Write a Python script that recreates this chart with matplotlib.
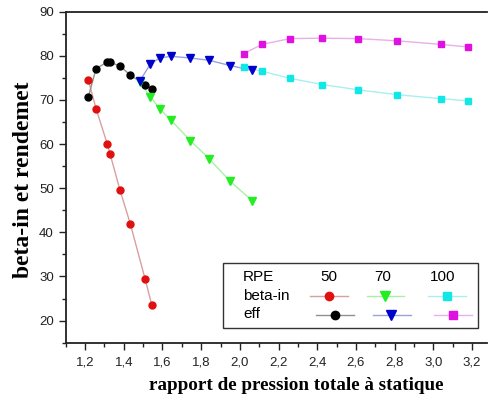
import matplotlib
matplotlib.use("Agg")
import matplotlib.pyplot as plt
from matplotlib.lines import Line2D
from matplotlib.patches import Rectangle
from matplotlib.ticker import MultipleLocator, FuncFormatter

# data
x50 = [1.217, 1.257, 1.315, 1.329, 1.381, 1.434, 1.510, 1.545]
beta50 = [74.5, 68.0, 60.0, 57.8, 49.5, 41.9, 29.5, 23.5]
eff50 = [70.7, 77.1, 78.6, 78.5, 77.7, 75.6, 73.5, 72.5]

x70 = [1.482, 1.538, 1.586, 1.644, 1.744, 1.841, 1.949, 2.065]
beta70 = [74.0, 70.7, 68.0, 65.4, 60.8, 56.7, 51.6, 47.1]
eff70 = [74.2, 78.2, 79.5, 79.9, 79.5, 79.0, 77.8, 76.7]

x100 = [2.020, 2.115, 2.259, 2.425, 2.611, 2.812, 3.038, 3.180]
beta100 = [77.4, 76.5, 74.9, 73.5, 72.3, 71.2, 70.3, 69.8]
eff100 = [80.5, 82.6, 83.9, 84.0, 83.9, 83.4, 82.6, 82.0]

rpe_labels = ["50", "70", "100"]
row_labels = ["beta-in", "eff"]

W, H = 488, 400
fig = plt.figure(figsize=(W / 100, H / 100), dpi=100)
ax = fig.add_axes([65.7 / W, 1 - 342.7 / H, (487 - 65.7) / W, (342.7 - 11.7) / H])

series = [
    (x50, beta50, "o", "#e01010", "#d8a0a0", 5.0),
    (x50, eff50, "o", "#000000", "#909090", 5.0),
    (x70, beta70, "v", "#22ee22", "#a8f0a8", 6.0),
    (x70, eff70, "v", "#0000cc", "#9aa0e0", 6.0),
    (x100, beta100, "s", "#10e8e8", "#a8f0f0", 4.6),
    (x100, eff100, "s", "#e010e0", "#e8b0e8", 4.6),
]
for xs, ys, m, mc, lc, ms in series:
    ax.plot(xs, ys, color=lc, lw=1.0, zorder=2)
    ax.plot(xs, ys, ls="none", marker=m, color=mc, ms=ms, mec=mc, zorder=3)

ax.set_xlim(1.1, 3.277)
ax.set_ylim(15, 90)
ax.xaxis.set_major_locator(MultipleLocator(0.2))
ax.xaxis.set_minor_locator(MultipleLocator(0.1))
ax.yaxis.set_major_locator(MultipleLocator(10))
ax.yaxis.set_minor_locator(MultipleLocator(5))
ax.set_xticks([t / 10 for t in range(12, 33, 2)])
ax.xaxis.set_major_formatter(FuncFormatter(lambda v, p: f"{v:.1f}".replace(".", ",")))
ax.yaxis.set_major_formatter(FuncFormatter(lambda v, p: f"{v:.0f}"))
ax.tick_params(which="both", direction="out", width=1.0, labelsize=9.5, colors="#222222")
ax.tick_params(which="major", length=5)
ax.tick_params(which="minor", length=3)
ax.tick_params(axis="x", pad=5)
for t in ax.get_xticklabels() + ax.get_yticklabels():
    t.set_fontfamily("Liberation Sans")
ax.spines["right"].set_visible(False)
for s in ["left", "bottom", "top"]:
    ax.spines[s].set_linewidth(1.3)
    ax.spines[s].set_color("#222222")

ax.set_xlabel("rapport de pression totale à statique", fontfamily="Liberation Serif",
              fontweight="bold", fontsize=13.8)
ax.set_ylabel("beta-in et rendemet", fontfamily="Liberation Serif",
              fontweight="bold", fontsize=17)

def fx(px):
    return px / W
def fy(py):
    return 1 - py / H

ax.xaxis.set_label_coords((296 - 65.7) / (487 - 65.7), (342.7 - 386) / (342.7 - 11.7))
ax.xaxis.label.set_va("center")
ax.yaxis.set_label_coords((24 - 65.7) / (487 - 65.7), (342.7 - 180) / (342.7 - 11.7))
ax.yaxis.label.set_va("center")

# legend table (figure pixel coordinates)
fig.patches.append(Rectangle((fx(223), fy(328)), fx(478) - fx(223), fy(262.7) - fy(328),
                             transform=fig.transFigure, fill=False, ec="#333333", lw=1.0))
ffam = "Liberation Sans"
fs = 11
fig.text(fx(243), fy(277), "RPE", fontsize=fs, family=ffam, va="center")
fig.text(fx(243), fy(296), row_labels[0], fontsize=fs, family=ffam, va="center")
fig.text(fx(243), fy(314.5), row_labels[1], fontsize=fs, family=ffam, va="center")
for cx, lab in zip([328.5, 383, 443], rpe_labels):
    fig.text(fx(cx), fy(277), lab, fontsize=fs, family=ffam, va="center", ha="center")

leg_rows = [
    (296, [(329, 310, 348), (385, 367, 404), (447, 428, 466)], [0, 2, 4]),
    (314.5, [(335, 316, 354), (391, 373, 411), (453, 434, 472)], [1, 3, 5]),
]
for ry, cols, idxs in leg_rows:
    for (cx, x0, x1), i in zip(cols, idxs):
        _, _, m, mc, lc, ms = series[i]
        fig.add_artist(Line2D([fx(x0), fx(x1)], [fy(ry), fy(ry)], color=lc, lw=1.0,
                              transform=fig.transFigure))
        fig.add_artist(Line2D([fx(cx)], [fy(ry)], marker=m, color=mc, mec=mc, ms=ms + 1,
                              ls="none", transform=fig.transFigure))

fig.savefig("out.png", dpi=100)
